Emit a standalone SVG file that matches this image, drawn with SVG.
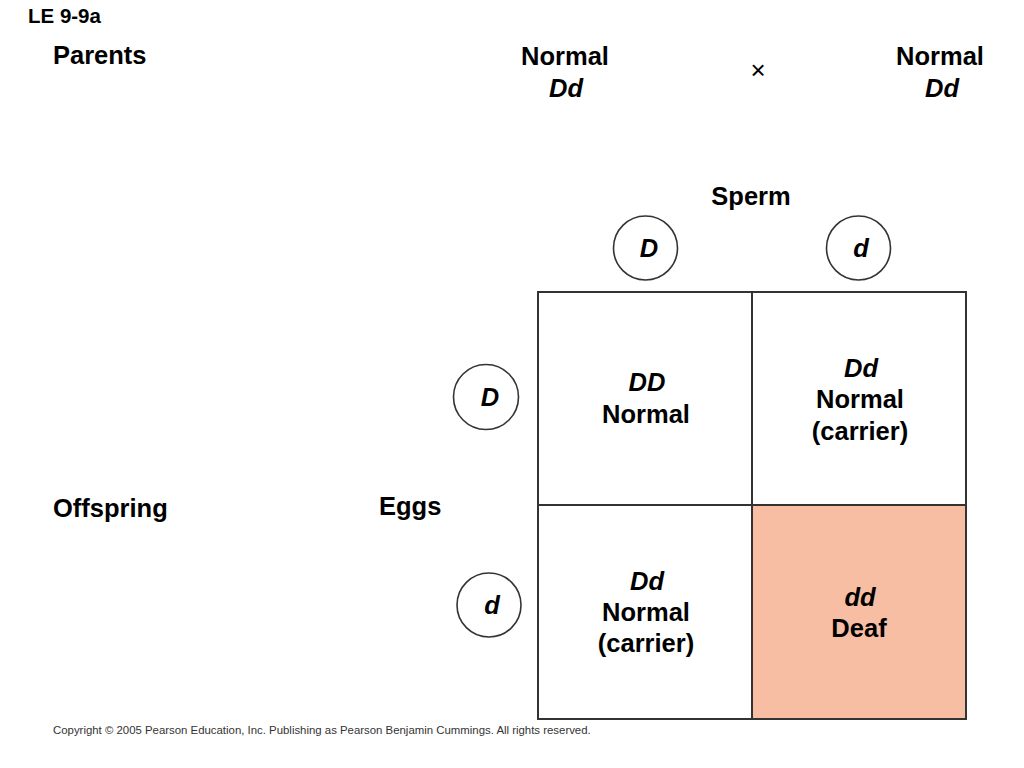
<svg xmlns="http://www.w3.org/2000/svg" width="1024" height="768" viewBox="0 0 1024 768">
<style>
text{font-family:"Liberation Sans",Arial,sans-serif;font-weight:bold;fill:#000}
.lbl{font-size:25.5px}
.big{font-size:25.5px}
.it{font-style:italic}
.mid{text-anchor:middle}
.circ{fill:#fff;stroke:#333;stroke-width:1.6}
.cell{stroke:#333;stroke-width:2}
.copy{font-size:11.4px;font-weight:normal;fill:#333}
</style>
<rect width="1024" height="768" fill="#fff"/>
<g id="title"><text x="28" y="23" style="font-size:20.5px">LE 9-9a</text></g>
<g id="parents-label"><text class="lbl" x="53" y="64">Parents</text></g>
<g id="parent1"><text class="big mid" x="565" y="65">Normal</text><text class="big mid it" x="566" y="97">Dd</text></g>
<g id="cross"><text class="mid" x="758" y="79" style="font-size:26px;font-weight:normal">×</text></g>
<g id="parent2"><text class="big mid" x="940" y="65">Normal</text><text class="big mid it" x="942" y="97">Dd</text></g>
<g id="sperm-label"><text class="lbl mid" x="751" y="205">Sperm</text></g>
<g id="sperm-D"><circle class="circ" cx="645.5" cy="248" r="32"/><text class="lbl mid it" x="649" y="257">D</text></g>
<g id="sperm-d"><circle class="circ" cx="858.5" cy="248" r="32"/><text class="lbl mid it" x="861" y="257">d</text></g>
<g id="offspring-label"><text class="lbl" x="53" y="517">Offspring</text></g>
<g id="eggs-label"><text class="lbl" x="379" y="515">Eggs</text></g>
<g id="egg-D"><circle class="circ" cx="486" cy="397" r="32.5"/><text class="lbl mid it" x="490" y="406">D</text></g>
<g id="egg-d"><circle class="circ" cx="489" cy="605" r="32"/><text class="lbl mid it" x="492" y="614">d</text></g>
<g id="cell-DD"><rect class="cell" x="538" y="292" width="214" height="213" fill="#fff"/><text class="big mid it" x="647" y="391">DD</text><text class="big mid" x="646" y="423">Normal</text></g>
<g id="cell-Dd-top"><rect class="cell" x="752" y="292" width="214" height="213" fill="#fff"/><text class="big mid it" x="861" y="377">Dd</text><text class="big mid" x="860" y="408">Normal</text><text class="big mid" x="860" y="440">(carrier)</text></g>
<g id="cell-Dd-bottom"><rect class="cell" x="538" y="505" width="214" height="214" fill="#fff"/><text class="big mid it" x="647" y="590">Dd</text><text class="big mid" x="646" y="621">Normal</text><text class="big mid" x="646" y="652">(carrier)</text></g>
<g id="cell-dd"><rect class="cell" x="752" y="505" width="214" height="214" fill="#F7BEA3"/><text class="big mid it" x="860" y="606">dd</text><text class="big mid" x="859" y="637">Deaf</text></g>
<g id="connectors"/>
<g id="copyright"><text class="copy" x="53" y="734">Copyright ©  2005 Pearson Education, Inc. Publishing as Pearson Benjamin Cummings. All rights reserved.</text></g>
</svg>
